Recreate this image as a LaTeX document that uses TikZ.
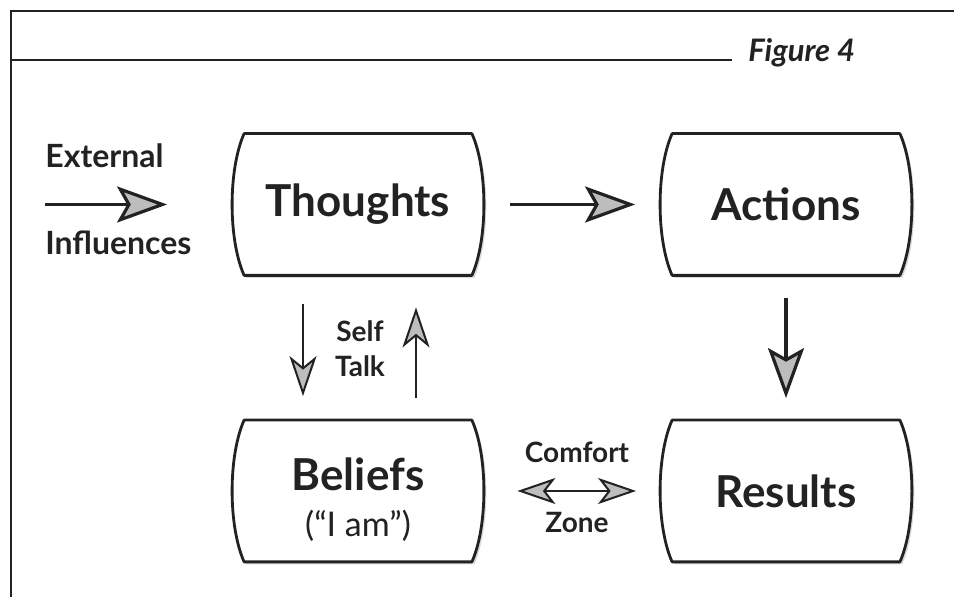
\documentclass[tikz,border=0pt]{standalone}
\usepackage{fontspec}
\setmainfont{Lato}
\usepackage{xcolor}
\usetikzlibrary{arrows.meta, shadows, backgrounds}

\definecolor{inkgray}{HTML}{222222}
\definecolor{tipgray}{HTML}{BDBDBD}

\tikzset{
  flowbox/.style={rectangle, minimum width=125.5pt, minimum height=70.5pt, inner sep=0pt,
    align=center, text=inkgray, font=\bfseries\fontsize{22}{26}\selectfont},
  boxline/.style={draw=inkgray, line width=1.4pt, fill=white, line join=round,
    drop shadow={shadow xshift=1.2pt, shadow yshift=-1.2pt, opacity=0.3}},
  lbl/.style={inner sep=0pt, text=inkgray, font=\bfseries\fontsize{16}{19}\selectfont},
  smalllbl/.style={inner sep=0pt, text=inkgray, align=center, font=\bfseries\fontsize{14}{17.5}\selectfont},
  bigarrow/.style={draw=inkgray, line width=1.6pt,
    -{Stealth[length=25pt, width=18pt, inset=5pt, fill=tipgray]}},
  thinarrow/.style={draw=inkgray, line width=1pt,
    -{Stealth[length=20pt, width=13.5pt, inset=5.5pt, fill=tipgray]}},
  zonearrow/.style={draw=inkgray, line width=1pt,
    {Stealth[length=19pt, width=13pt, inset=5pt, fill=tipgray]}-{Stealth[length=19pt, width=13pt, inset=5pt, fill=tipgray]}},
}

\begin{document}
\begin{tikzpicture}[x=0.5pt, y=-0.5pt]
\useasboundingbox (0,0) rectangle (954,597);

% frame and heading
\draw[draw=inkgray, line width=1pt] (11,597) -- (11,11) -- (954,11);
\draw[draw=inkgray, line width=1pt] (11,60) -- (732,60);
\node[inner sep=0pt, anchor=base west, text=inkgray, font=\bfseries\itshape\fontsize{15.5}{18}\selectfont] (figlabel) at (748,62) {Figure 4};

% boxes
\node[flowbox] (thoughts) at (358,204.5) {Thoughts};
\node[flowbox] (actions) at (786,204.5) {Actions};
\node[flowbox] (beliefs) at (358,491) {\rule{0pt}{25pt}Beliefs\\[-3pt]{\mdseries\fontsize{17}{20}\selectfont (“I am”)}};
\node[flowbox] (results) at (786,491) {Results};

\begin{pgfonlayer}{background}
\foreach \b in {thoughts,actions,beliefs,results}
  \draw[boxline] ([shift={(12,0)}]\b.north west) -- ([shift={(-12,0)}]\b.north east)
    .. controls ([shift={(4,36)}]\b.north east) and ([shift={(4,-36)}]\b.south east) .. ([shift={(-12,0)}]\b.south east)
    -- ([shift={(12,0)}]\b.south west)
    .. controls ([shift={(-4,-36)}]\b.south west) and ([shift={(-4,36)}]\b.north west) .. cycle;
\end{pgfonlayer}

% labels
\node[lbl, anchor=base west] (external) at (45,168) {External};
\node[lbl, anchor=base west] (influences) at (45,255) {Influences};
\node[smalllbl] (selftalk) at (360,349) {Self\\Talk};
\node[smalllbl, anchor=base] (comfortlbl) at (577,463) {Comfort};
\node[smalllbl, anchor=base] (zonelbl) at (577,533) {Zone};

% connectors
\coordinate (extstart) at (45,204.5);
\draw[bigarrow, shorten >=32.5pt] (extstart) -- (thoughts.west);
\draw[bigarrow, shorten <=13pt, shorten >=12.5pt] (thoughts.east) -- (actions.west);
\draw[bigarrow, shorten <=11.5pt, shorten >=11pt] (actions.south) -- (results.north);
\draw[thinarrow, shorten <=14.5pt, shorten >=12pt] ([xshift=-27.5pt]thoughts.south) -- ([xshift=-27.5pt]beliefs.north);
\draw[thinarrow, shorten <=11pt, shorten >=16pt] ([xshift=29pt]beliefs.north) -- ([xshift=29pt]thoughts.south);
\draw[zonearrow, shorten <=16.75pt, shorten >=12pt] (beliefs.east) -- (results.west);
\end{tikzpicture}
\end{document}
